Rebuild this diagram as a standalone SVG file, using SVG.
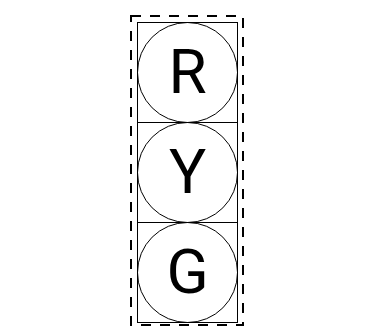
<svg xmlns="http://www.w3.org/2000/svg" width="373" height="326" viewBox="0 0 373 326">
<style>
.box{fill:none;stroke:#000;stroke-width:1}
.lamp{fill:none;stroke:#000;stroke-width:1}
.lbl{font-family:Roboto,"Liberation Sans",sans-serif;font-size:62px;fill:#000;text-anchor:middle}
.frame{fill:none;stroke:#000;stroke-width:2;stroke-dasharray:10 9}
</style>
<rect width="373" height="326" fill="#fff"/>
<g id="frame"><rect class="frame" x="131" y="16" width="112" height="309"/></g>
<g id="red"><rect class="box" x="137.5" y="22.5" width="100" height="100"/><circle class="lamp" cx="187.5" cy="72.5" r="50"/><text class="lbl" x="187.5" y="93">R</text></g>
<g id="yellow"><rect class="box" x="137.5" y="122.5" width="100" height="100"/><circle class="lamp" cx="187.5" cy="172.5" r="50"/><text class="lbl" x="187.5" y="193">Y</text></g>
<g id="green"><rect class="box" x="137.5" y="222.5" width="100" height="100"/><circle class="lamp" cx="187.5" cy="272.5" r="50"/><text class="lbl" x="187.5" y="293">G</text></g>
<g id="connectors"></g>
</svg>
